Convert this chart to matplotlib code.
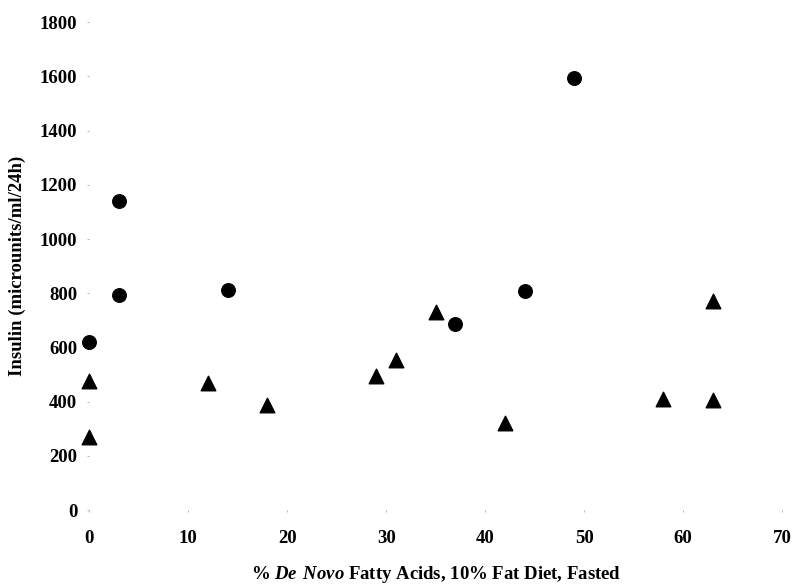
import matplotlib
matplotlib.use("Agg")
import matplotlib.pyplot as plt

plt.rcParams['font.family'] = 'Liberation Serif'
plt.rcParams['font.weight'] = 'bold'
plt.rcParams['mathtext.fontset'] = 'custom'
plt.rcParams['mathtext.bfit'] = 'Liberation Serif:italic:bold'
plt.rcParams['mathtext.rm'] = 'Liberation Serif:bold'

# circles
circle_x = [0, 3, 3, 14, 37, 44, 49]
circle_y = [620, 793, 1140, 811, 686, 808, 1594]

# triangles
tri_x = [0, 0, 12, 18, 29, 31, 35, 42, 58, 63, 63]
tri_y = [476, 269, 468, 387, 494, 553, 730, 321, 409, 406, 771]

x_ticks = [0, 10, 20, 30, 40, 50, 60, 70]
y_ticks = [0, 200, 400, 600, 800, 1000, 1200, 1400, 1600, 1800]

fig = plt.figure(figsize=(7.95, 5.85), dpi=100)
ax = fig.add_axes([0.112, 0.128, 0.872, 0.834])

ax.scatter(circle_x, circle_y, marker='o', s=95, color='black', clip_on=False, zorder=3)
ax.scatter(tri_x, tri_y, marker='^', s=110, color='black', clip_on=False, zorder=3)

ax.set_xlim(0, 70)
ax.set_ylim(0, 1800)
ax.set_xticks(x_ticks)
ax.set_yticks(y_ticks)
for s in ax.spines.values():
    s.set_visible(False)
ax.tick_params(axis='x', length=1.5, width=0.6, color='#aaaaaa', pad=13, labelsize=13.5)
ax.tick_params(axis='y', length=1.5, width=0.6, color='#aaaaaa', pad=7, labelsize=13.5)

ax.set_xlabel(r'% $\mathbfit{De\ Novo}$ Fatty Acids, 10% Fat Diet, Fasted',
              fontsize=13.5, fontweight='bold', labelpad=12)
ax.set_ylabel('Insulin (microunits/ml/24h)', fontsize=13.5, fontweight='bold', labelpad=10)

fig.savefig('out.png', dpi=100)
